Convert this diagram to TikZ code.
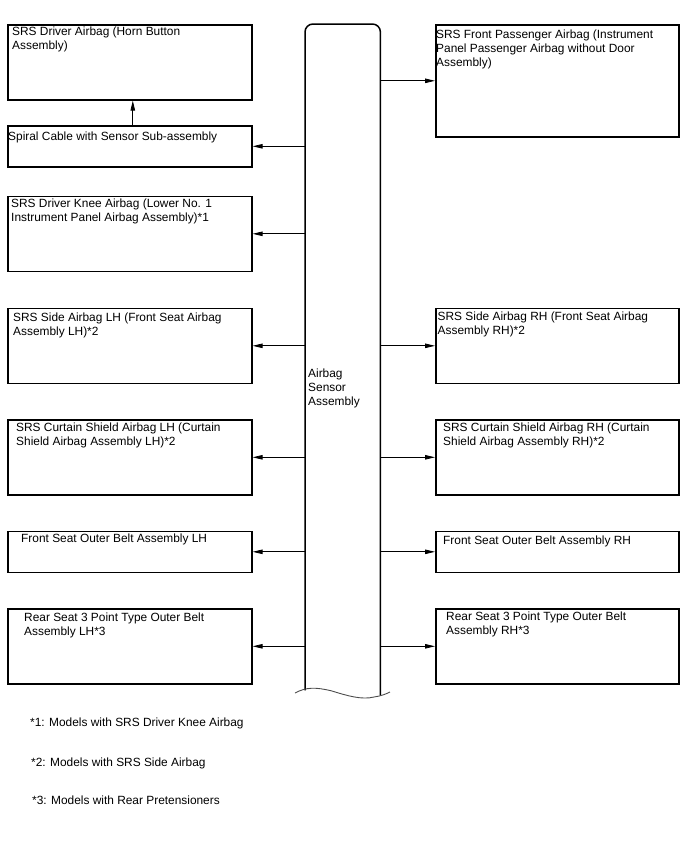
\documentclass[tikz,border=0pt]{standalone}
\usepackage{fontspec}
\setmainfont{Liberation Sans}
\usepackage{tikz}
\usetikzlibrary{positioning, arrows.meta, calc}

\begin{document}
\begin{tikzpicture}[
  x=1pt, y=-1pt,
  every node/.style={font=\fontsize{11.9}{14}\selectfont, inner sep=0pt},
  part/.style={draw, line width=1.6pt, anchor=north west, minimum width=244pt},
  txt/.style={anchor=base west, align=left},
  arr/.style={-{Triangle[length=10pt, width=4.5pt]}, line width=0.8pt},
  sensor/.style={line width=1.5pt, rounded corners=8pt},
  wave/.style={line width=0.9pt, black!70}
]
  \useasboundingbox (0,0) rectangle (688,852);

  % Airbag sensor assembly (centre column)
  \node[anchor=north west, minimum width=75pt, minimum height=666pt] (sas) at (305,24) {};
  \draw[sensor] (sas.south west) -- (sas.north west) -- (sas.north east) -- ([yshift=-5pt]sas.south east);
  \draw[wave] (295,693) .. controls (306,687) and (316,687) .. (332,691)
    .. controls (348,696) and (362,700) .. (374,697) .. controls (381,696) and (386,694) .. (390,692);
  % (base anchor of a multi-line node = last line)
  \node[txt] (sas-t) at (308,405) {Airbag\\Sensor\\Assembly};

  % Left side parts
  \node[part, minimum height=75pt] (drv) at (7,24) {};
  \node[part, minimum height=41pt] (spiral) at (7,125) {};
  \node[part, minimum height=75pt] (knee) at (7,195.5) {};
  \node[part, minimum height=75pt] (sidel) at (7,307.5) {};
  \node[part, minimum height=75pt] (curtl) at (7,419) {};
  \node[part, minimum height=41pt] (beltl) at (7,530.5) {};
  \node[part, minimum height=75pt] (rearl) at (7,608) {};

  % Right side parts
  \node[part, minimum height=112pt, minimum width=243pt] (pass) at (435,24) {};
  \node[part, minimum height=75pt, minimum width=243pt] (sider) at (435,307.5) {};
  \node[part, minimum height=75pt, minimum width=243pt] (curtr) at (435,419) {};
  \node[part, minimum height=41pt, minimum width=243pt] (beltr) at (435,530.5) {};
  \node[part, minimum height=75pt, minimum width=243pt] (rearr) at (435,608) {};

  % Labels in the boxes
  \node[txt] (drv-t) at (12,49) {SRS Driver Airbag (Horn Button\\Assembly)};
  \node[txt] (spiral-t) at (8,140) {Spiral Cable with Sensor Sub-assembly};
  \node[txt] (knee-t) at (11,221.5) {SRS Driver Knee Airbag (Lower No. 1\\Instrument Panel Airbag Assembly)*1};
  \node[txt] (sidel-t) at (13,335) {SRS Side Airbag LH (Front Seat Airbag\\Assembly LH)*2};
  \node[txt] (curtl-t) at (16,445) {SRS Curtain Shield Airbag LH (Curtain\\Shield Airbag Assembly LH)*2};
  \node[txt] (beltl-t) at (21,542.5) {Front Seat Outer Belt Assembly LH};
  \node[txt] (rearl-t) at (24,635) {Rear Seat 3 Point Type Outer Belt\\Assembly LH*3};
  \node[txt] (pass-t) at (436,66) {SRS Front Passenger Airbag (Instrument\\Panel Passenger Airbag without Door\\Assembly)};
  \node[txt] (sider-t) at (437.5,334) {SRS Side Airbag RH (Front Seat Airbag\\Assembly RH)*2};
  \node[txt] (curtr-t) at (443,445.5) {SRS Curtain Shield Airbag RH (Curtain\\Shield Airbag Assembly RH)*2};
  \node[txt] (beltr-t) at (443,544) {Front Seat Outer Belt Assembly RH};
  \node[txt] (rearr-t) at (446,634) {Rear Seat 3 Point Type Outer Belt\\Assembly RH*3};

  % Connections
  \draw[arr] ([xshift=3pt]spiral.north) -- ([xshift=3pt]drv.south);
  \draw[arr] (sas.west |- spiral.east) -- (spiral.east);
  \draw[arr] (sas.west |- knee.east) -- (knee.east);
  \draw[arr] (sas.west |- sidel.east) -- (sidel.east);
  \draw[arr] (sas.west |- curtl.east) -- (curtl.east);
  \draw[arr] (sas.west |- beltl.east) -- (beltl.east);
  \draw[arr] (sas.west |- rearl.east) -- (rearl.east);
  \draw[arr] (sas.east |- pass.west) -- (pass.west);
  \draw[arr] (sas.east |- sider.west) -- (sider.west);
  \draw[arr] (sas.east |- curtr.west) -- (curtr.west);
  \draw[arr] (sas.east |- beltr.west) -- (beltr.west);
  \draw[arr] (sas.east |- rearr.west) -- (rearr.west);

  % Notes
  \node[txt] (note1) at (30,726) {*1: Models with SRS Driver Knee Airbag};
  \node[txt] (note2) at (31,766) {*2: Models with SRS Side Airbag};
  \node[txt] (note3) at (32,804) {*3: Models with Rear Pretensioners};
\end{tikzpicture}
\end{document}
